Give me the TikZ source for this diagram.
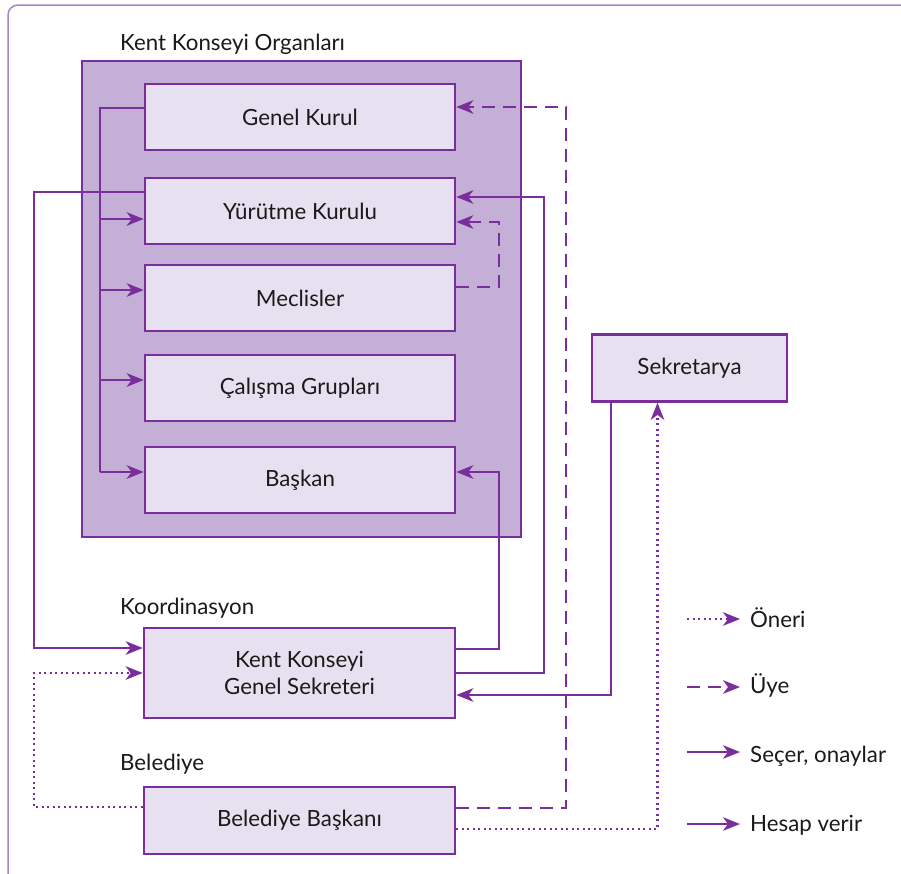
\documentclass[tikz,border=0pt]{standalone}
\usepackage{fontspec}
\setmainfont{Lato}
\usetikzlibrary{arrows.meta}
\definecolor{pur}{HTML}{7A2E9B}
\definecolor{outerfill}{HTML}{C4AFD6}
\definecolor{innerfill}{HTML}{E7E0F0}
\definecolor{framec}{HTML}{A886C4}
\definecolor{txt}{HTML}{1A1A1A}
\newcommand\dfont{\fontsize{22.3}{27}\selectfont}
\tikzset{
  box/.style={draw=pur, fill=innerfill, line width=2.6pt, minimum width=310pt, minimum height=66pt, inner sep=0pt, font=\dfont, text=txt, align=center},
  lbl/.style={inner sep=0pt, font=\dfont, text=txt, anchor=base west},
  conn/.style={draw=pur, line width=2.5pt},
  arr/.style={conn, -{Stealth[length=17pt,width=13.5pt,inset=5pt]}},
  dasharr/.style={arr, dash pattern=on 13pt off 8pt},
  dotarr/.style={arr, dash pattern=on 2pt off 3.5pt},
}
\begin{document}
\begin{tikzpicture}[x=1pt,y=-1pt]
\useasboundingbox (0,0) rectangle (901,873);
\fill[white] (0,0) rectangle (901,873);
\begin{scope}
\clip (0,0) rectangle (901,873);
\draw[framec, line width=1.5pt, rounded corners=10pt] (8,5) rectangle (960,960);
\end{scope}

% outer group
\node[draw=pur, fill=outerfill, line width=2.8pt, minimum width=439pt, minimum height=476pt, inner sep=0pt] (outer) at (301.5,299) {};
\node[lbl] (t1) at (120,50) {Kent Konseyi Organları};
\node[lbl] (t2) at (120,614) {Koordinasyon};
\node[lbl] (t3) at (120,770) {Belediye};

\node[box] (gk) at (300,117) {Genel Kurul};
\node[box] (yk) at (300,211) {Yürütme Kurulu};
\node[box] (mc) at (300,298) {Meclisler};
\node[box] (cg) at (300,388) {Çalışma Grupları};
\node[box] (bs) at (300,480) {Başkan};
\node[box, minimum width=311pt, minimum height=90pt] (kk) at (299.5,673) {Kent Konseyi\\Genel Sekreteri};
\node[box, minimum width=311pt, minimum height=67pt] (bb) at (299.5,820.5) {Belediye Başkanı};
\node[box, minimum width=195pt, minimum height=67pt] (sk) at (689.5,368) {Sekretarya};

% bus from Genel Kurul
\draw[conn] ([yshift=9pt]gk.west) -| (100,472);
\draw[arr] (100,219) -- ([yshift=-8pt]yk.west);
\draw[arr] (100,290) -- ([yshift=8pt]mc.west);
\draw[arr] (100,380) -- ([yshift=8pt]cg.west);
\draw[arr] (100,472) -- ([yshift=8pt]bs.west);

% Yurutme -> KKGS
\draw[arr] ([yshift=19pt]yk.west) -| (34,648) -- ([yshift=25pt]kk.west);
% Belediye Baskani -> KKGS (oneri)
\draw[dotarr] ([yshift=13.5pt]bb.west) -| (34,673) -- (kk.west);
% KKGS -> Baskan
\draw[arr] ([yshift=24pt]kk.east) -| (499,472) -- ([yshift=8pt]bs.east);
% KKGS -> Yurutme
\draw[arr] (kk.east) -| (544,197) -- ([yshift=14pt]yk.east);
% Meclisler -> Yurutme (uye)
\draw[dasharr] ([yshift=11pt]mc.east) -| (499,222) -- ([yshift=-11pt]yk.east);
% Belediye Baskani -> Genel Kurul (uye)
\draw[dasharr] ([yshift=12.5pt]bb.east) -| (566,107) -- ([yshift=10pt]gk.east);
% Sekretarya -> KKGS
\draw[arr] ([xshift=-78.5pt]sk.south) |- ([yshift=-22pt]kk.east);
% Belediye Baskani -> Sekretarya (oneri)
\draw[dotarr] ([yshift=-8.5pt]bb.east) -| ([xshift=-32pt]sk.south);

% legend
\node[lbl] (l1) at (750,627) {Öneri};
\node[lbl] (l2) at (750,693) {Üye};
\node[lbl] (l3) at (750,762) {Seçer, onaylar};
\node[lbl] (l4) at (750,831) {Hesap verir};
\coordinate (s1) at (687,619);
\coordinate (s2) at (687,687);
\coordinate (s3) at (687,752);
\coordinate (s4) at (687,824);
\draw[dotarr] (s1) -- (740,619);
\draw[dasharr] (s2) -- (740,687);
\draw[arr] (s3) -- (740,752);
\draw[arr] (s4) -- (740,824);
\end{tikzpicture}
\end{document}
